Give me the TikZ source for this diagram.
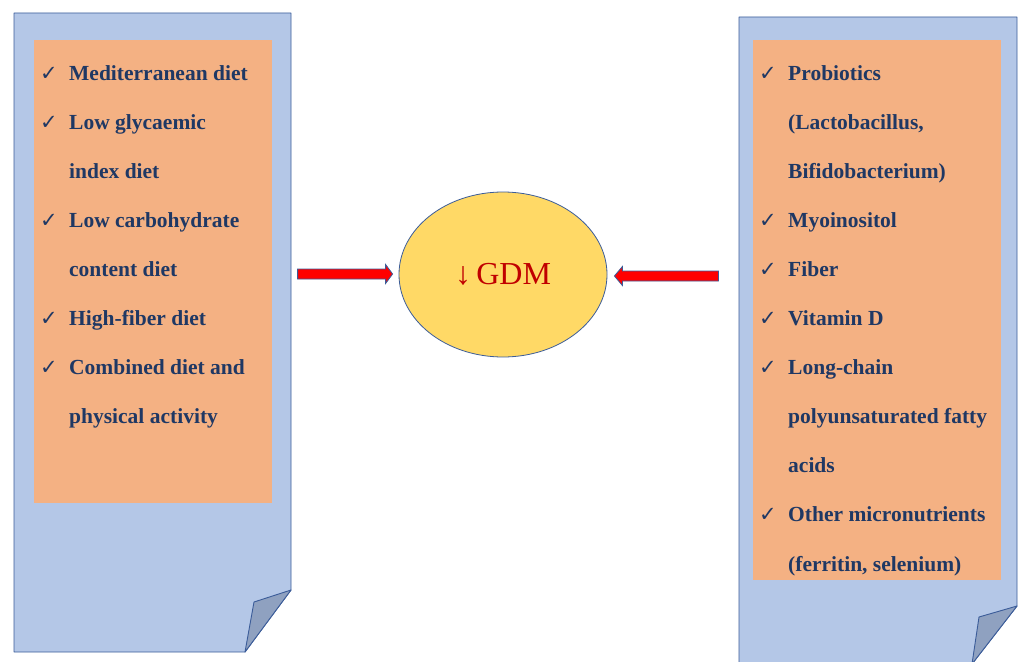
\documentclass[tikz,border=0pt]{standalone}
\usepackage{fontspec}
\setmainfont{Liberation Serif}
\newfontfamily\tickfont{DejaVu Sans}
\usetikzlibrary{shapes.geometric}

\definecolor{pageblue}{HTML}{B4C7E7}
\definecolor{pageedge}{HTML}{3B5C99}
\definecolor{foldblue}{HTML}{8FA1C0}
\definecolor{boxorange}{HTML}{F4B183}
\definecolor{gdmyellow}{HTML}{FFD966}
\definecolor{navy}{HTML}{1F3864}
\definecolor{gdmred}{HTML}{C00000}

\newcommand{\ck}{{\tickfont\fontsize{21}{21}\selectfont ✓}}

\tikzset{
  page/.style={draw=pageedge, fill=pageblue, line width=0.9pt, line join=round},
  fold/.style={draw=pageedge, fill=foldblue, line width=0.9pt, line join=round},
  listbox/.style={rectangle, fill=boxorange, inner sep=0pt, anchor=north west},
  item/.style={anchor=base west, inner sep=0pt, text=navy, font=\bfseries\fontsize{21.5}{24}\selectfont},
  tick/.style={anchor=base east, inner sep=0pt, text=navy, xshift=-11pt},
  arrowbody/.style={draw=pageedge, fill=red, line width=0.8pt, line join=miter}
}

\begin{document}
\begin{tikzpicture}[x=1pt,y=-1pt]
    \useasboundingbox (0,0) rectangle (1019,661);
    \clip (0,0) rectangle (1019,661);

    % left page with folded corner
    \draw[page] (14,13) -- (291,13) -- (291,590) -- (245,652) -- (14,652) -- cycle;
    \draw[fold] (291,590) -- (254,602) -- (245,652) -- cycle;
    \node[listbox, minimum width=238pt, minimum height=463pt] (lbox) at (34,40) {};

    % right page with folded corner
    \draw[page] (739,17) -- (1017,17) -- (1017,606) -- (972,664) -- (739,664) -- cycle;
    \draw[fold] (1017,606) -- (979,617) -- (972,664) -- cycle;
    \node[listbox, minimum width=248pt, minimum height=540pt] (rbox) at (753,40) {};

    % the centre
    \node[ellipse, draw=pageedge, fill=gdmyellow, line width=0.8pt,
      minimum width=208pt, minimum height=165pt, inner sep=0pt,
      text=gdmred, font=\fontsize{32}{32}\selectfont] (gdm) at (503,274.5) {↓\,GDM};

    % arrows into the centre
    \coordinate (ltip) at ([xshift=-6pt,yshift=0.5pt]gdm.west);
    \coordinate (rtip) at ([xshift=7pt,yshift=-1.5pt]gdm.east);
    \draw[arrowbody] (ltip) -- ++(-7,-9.5) -- ++(0,4.5) -- ++(-88,0) -- ++(0,10)
        -- ++(88,0) -- ++(0,4.5) -- cycle;
    \draw[arrowbody] (rtip) -- ++(8,-9.5) -- ++(0,4.5) -- ++(96,0) -- ++(0,10)
        -- ++(-96,0) -- ++(0,4.5) -- cycle;

    % left list
    \foreach \t [count=\i from 0] in {Mediterranean diet, Low glycaemic, index diet,
        Low carbohydrate, content diet, High-fiber diet, Combined diet and, physical activity}
        \node[item] (L\i) at (69,{80+49.1*\i}) {\t};
    \foreach \i in {0,1,3,5,6}
        \node[tick] (LC\i) at (L\i.base west) {\ck};

    % right list
    \foreach \t [count=\i from 0] in {Probiotics, {(Lactobacillus,}, Bifidobacterium),
        Myoinositol, Fiber, Vitamin D, Long-chain, polyunsaturated fatty, acids,
        Other micronutrients, {(ferritin, selenium)}}
        \node[item] (R\i) at (788,{80+49.1*\i}) {\t};
    \foreach \i in {0,3,4,5,6,9}
        \node[tick] (RC\i) at (R\i.base west) {\ck};
\end{tikzpicture}
\end{document}
